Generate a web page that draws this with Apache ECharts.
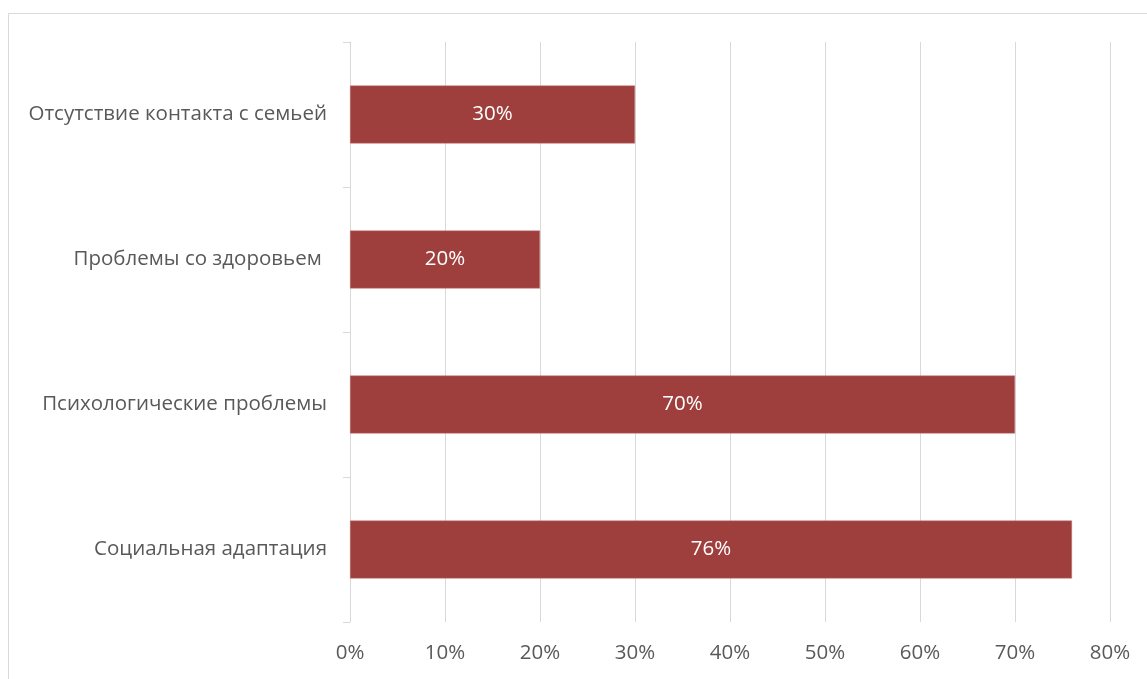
<!DOCTYPE html>
<html>
<head>
<meta charset="utf-8">
<script src="https://cdn.jsdelivr.net/npm/echarts@6/dist/echarts.min.js"></script>
<style>
  html, body { margin: 0; padding: 0; background: #fff; }
  #chart { width: 1147px; height: 679px; }
</style>
</head>
<body>
<div id="chart"></div>
<script>
// categories listed bottom to top, as the axis draws them
var categories = ['Социальная адаптация', 'Психологические проблемы', 'Проблемы со здоровьем ', 'Отсутствие контакта с семьей'];
var values = [76, 70, 20, 30];
var xTicks = [0, 10, 20, 30, 40, 50, 60, 70, 80];

var chart = echarts.init(document.getElementById('chart'));
var font = '"Open Sans", "Liberation Sans", sans-serif';

chart.setOption({
    animation: false,
    graphic: [{
        type: 'rect',
        shape: { x: 8.5, y: 13.5, width: 1200, height: 700 },
        style: { fill: 'none', stroke: '#d9d9d9', lineWidth: 1 }
    }],
    grid: { left: 350, right: 37, top: 42, bottom: 57 },
    xAxis: {
        type: 'value',
        min: xTicks[0],
        max: xTicks[xTicks.length - 1],
        interval: 10,
        axisLine: { show: false },
        axisTick: { show: false },
        axisLabel: {
            margin: 21,
            color: '#595959',
            fontSize: 20.5,
            fontFamily: font,
            formatter: function (v) { return v + '%'; }
        },
        splitLine: { lineStyle: { color: '#d9d9d9', width: 1 } }
    },
    yAxis: {
        type: 'category',
        data: categories,
        axisLine: { lineStyle: { color: '#d9d9d9', width: 1 } },
        axisTick: { show: true, length: 7, lineStyle: { color: '#d9d9d9' } },
        axisLabel: {
            margin: 23,
            color: '#595959',
            fontSize: 20.5,
            fontFamily: font
        }
    },
    series: [{
        type: 'bar',
        data: values,
        barWidth: 58,
        itemStyle: { color: '#9e3f3d', borderColor: '#c47a78', borderWidth: 0.5 },
        label: {
            show: true,
            position: 'inside',
            color: '#ffffff',
            fontSize: 20.5,
            fontFamily: font,
            formatter: function (p) { return p.value + '%'; }
        }
    }]
});
</script>
</body>
</html>
